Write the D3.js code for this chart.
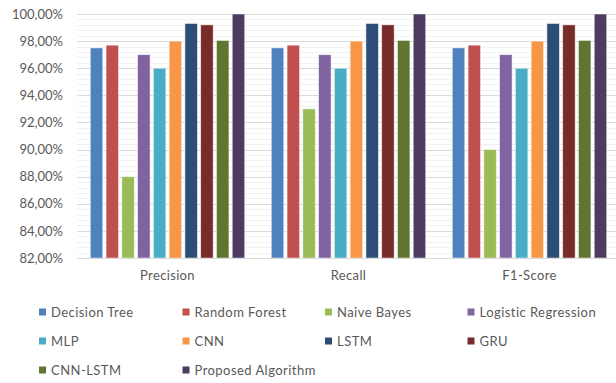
<!DOCTYPE html>
<html>
<head>
<meta charset="utf-8">
<script src="https://cdn.jsdelivr.net/npm/d3@7/dist/d3.min.js"></script>
<style>
  html, body { margin: 0; padding: 0; background: #fff; }
  svg { display: block; overflow: hidden; }
  text { font-family: Lato, "Open Sans", sans-serif; fill: #595959; }
</style>
</head>
<body>
<svg id="chart" width="616" height="383"></svg>
<script>
// Metrics and models
const metrics = ["Precision", "Recall", "F1-Score"];
const models = ["Decision Tree", "Random Forest", "Naive Bayes", "Logistic Regression",
                "MLP", "CNN", "LSTM", "GRU", "CNN-LSTM", "Proposed Algorithm"];
const colors = ["#4F81BD", "#C0504D", "#9BBB59", "#8064A2", "#4BACC6",
                "#F79646", "#2C4D75", "#772C2A", "#5F7530", "#4D3B62"];

// Score (%) of each model, per metric
const precision = [97.5, 97.7, 88.0, 97.0, 96.0, 98.0, 99.3, 99.2, 98.05, 100.0];
const recall    = [97.5, 97.7, 93.0, 97.0, 96.0, 98.0, 99.3, 99.2, 98.05, 100.0];
const f1score   = [97.5, 97.7, 90.0, 97.0, 96.0, 98.0, 99.3, 99.2, 98.05, 100.0];
const seriesByMetric = [precision, recall, f1score];

// Axis ticks
const yTicks = [82, 84, 86, 88, 90, 92, 94, 96, 98, 100];
const yMin = 82, yMax = 100, minorStep = 0.4;

const svg = d3.select("#chart");
const plot = { left: 77, right: 620, top: 14, bottom: 258 };

const x0 = d3.scaleBand().domain(metrics).range([plot.left, plot.right]).padding(0);
const bandPad = 13.3;
const x1 = d3.scaleBand().domain(models)
  .range([bandPad, x0.bandwidth() - bandPad])
  .paddingInner(0.21).paddingOuter(0);
const y = d3.scaleLinear().domain([yMin, yMax]).range([plot.bottom, plot.top]);

const locale = d3.formatLocale({ decimal: ",", thousands: ".", grouping: [3], currency: ["", ""] });
const fmt = v => locale.format(".2f")(v) + "%";

// Minor gridlines
const minor = d3.range(yMin, yMax + 1e-6, minorStep).filter(v => !yTicks.some(t => Math.abs(t - v) < 1e-6));
svg.append("g").selectAll("line").data(minor).join("line")
  .attr("x1", plot.left).attr("x2", plot.right)
  .attr("y1", d => Math.round(y(d)) + 0.5).attr("y2", d => Math.round(y(d)) + 0.5)
  .attr("stroke", "#F2F2F2").attr("stroke-width", 1);

// Major gridlines
svg.append("g").selectAll("line").data(yTicks).join("line")
  .attr("x1", plot.left).attr("x2", plot.right)
  .attr("y1", d => Math.round(y(d)) + 0.5).attr("y2", d => Math.round(y(d)) + 0.5)
  .attr("stroke", "#D9D9D9").attr("stroke-width", 1);

// Y axis labels
const yAxis = svg.append("g").attr("transform", `translate(${plot.left - 14},0)`)
  .call(d3.axisLeft(y).tickValues(yTicks).tickFormat(fmt).tickSize(0).tickPadding(0));
yAxis.select(".domain").remove();
yAxis.selectAll("text").attr("font-size", 13).attr("font-family", "Lato, sans-serif").attr("fill", "#595959");

// Bars
const groups = svg.append("g").selectAll("g").data(metrics).join("g")
  .attr("transform", d => `translate(${x0(d)},0)`);
groups.selectAll("rect")
  .data((m, i) => models.map((name, j) => ({ name, value: seriesByMetric[i][j], color: colors[j] })))
  .join("rect")
  .attr("x", d => x1(d.name))
  .attr("width", x1.bandwidth())
  .attr("y", d => y(d.value))
  .attr("height", d => y(yMin) - y(d.value))
  .attr("fill", d => d.color)
  .attr("stroke", "#ffffff").attr("stroke-opacity", 0.6).attr("stroke-width", 0.8);

// Category axis
const xAxis = svg.append("g").attr("transform", `translate(0,${plot.bottom})`)
  .call(d3.axisBottom(x0).tickSize(0).tickPadding(13));
xAxis.select(".domain").attr("stroke", "#D9D9D9").attr("d", `M${plot.left},0.5H${plot.right}`);
xAxis.selectAll("text").attr("font-size", 13).attr("letter-spacing", "0.35px")
  .attr("font-family", "Lato, sans-serif").attr("fill", "#595959");

// Legend
const legendX = [39, 182.5, 325, 467.5];
const legendY = [312, 341, 370];
const legend = svg.append("g").selectAll("g").data(models).join("g")
  .attr("transform", (d, i) => `translate(${legendX[i % 4]},${legendY[Math.floor(i / 4)]})`);
legend.append("rect").attr("x", 0).attr("y", -3.5).attr("width", 7).attr("height", 7)
  .attr("fill", (d, i) => colors[i]);
legend.append("text").attr("x", 12).attr("y", 0).attr("dy", "0.35em")
  .attr("font-size", 13).attr("letter-spacing", "0.45px").text(d => d);
</script>
</body>
</html>
